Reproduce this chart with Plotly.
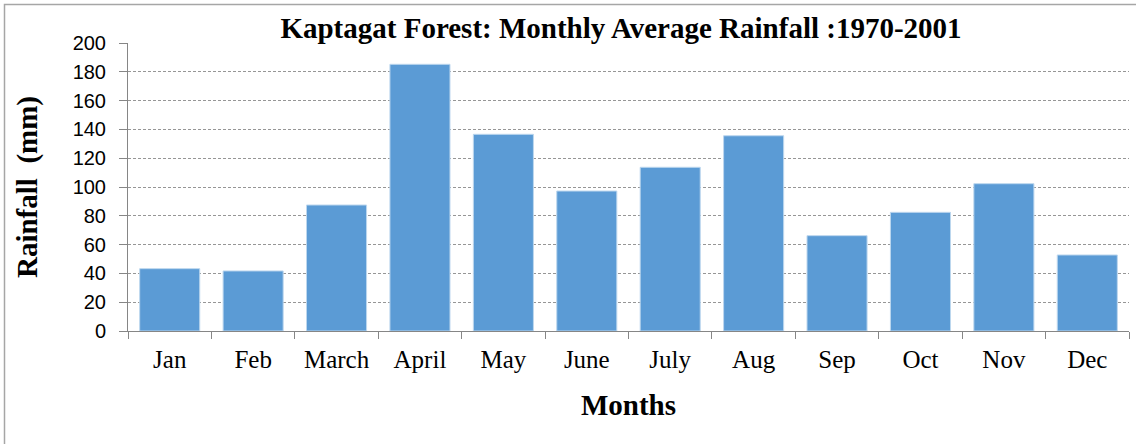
import plotly.graph_objects as go

months = ["Jan", "Feb", "March", "April", "May", "June", "July", "Aug", "Sep", "Oct", "Nov", "Dec"]
rainfall = [43.3, 41.7, 87.5, 185.2, 136.6, 97.2, 113.7, 135.6, 66.2, 82.4, 102.3, 52.8]
y_ticks = [0, 20, 40, 60, 80, 100, 120, 140, 160, 180, 200]

fig = go.Figure(go.Bar(
    x=months, y=rainfall,
    marker=dict(color="#5B9BD5", line=dict(color="#BDD7EE", width=1)),
))

W, H = 1136, 444
L, R, T, B = 128, 7, 43, 113
fig.update_layout(
    width=W, height=H,
    margin=dict(l=L, r=R, t=T, b=B, autoexpand=False),
    paper_bgcolor="white", plot_bgcolor="white",
    bargap=0.28,
    showlegend=False,
    title=dict(text="<b>Kaptagat Forest: Monthly Average Rainfall :1970-2001</b>",
               x=621 / W, xanchor="center", y=1 - 28 / H, yanchor="middle",
               font=dict(family="Liberation Serif", size=29, color="black")),
    xaxis=dict(
        type="category", automargin=False,
        showline=True, linecolor="#868686", linewidth=1,
        ticks="outside", tickson="boundaries", ticklen=7, tickcolor="#868686",
        tickfont=dict(family="Liberation Serif", size=25, color="black"),
        ticklabelstandoff=6,
        title=dict(text="<b>Months</b>", font=dict(family="Liberation Serif", size=29, color="black"),
                   standoff=22),
        showgrid=False,
    ),
    yaxis=dict(
        range=[0, 200], tickvals=y_ticks, automargin=False,
        showline=True, linecolor="#868686", linewidth=1,
        ticks="outside", ticklen=8, tickcolor="#868686",
        tickfont=dict(family="Liberation Sans", size=20, color="black"),
        ticklabelstandoff=9,
        showgrid=True, gridcolor="#969696", griddash="3px,2px", gridwidth=1,
        zeroline=False,
        title=dict(text="<b>Rainfall  (mm)</b>", font=dict(family="Liberation Serif", size=29, color="black"),
                   standoff=26),
    ),
    shapes=[dict(type="rect", xref="paper", yref="paper",
                 x0=(4.5 - L) / (W - L - R), x1=(W + 2 - L) / (W - L - R),
                 y0=-(H + 2 - (H - B)) / (H - T - B), y1=1 + (T - 4.5) / (H - T - B),
                 line=dict(color="#A6A6A6", width=1.5), fillcolor="rgba(0,0,0,0)", layer="below")],
)

fig.write_html("out.html", config={"displayModeBar": False},
               post_script="document.body.style.margin='0px';")
